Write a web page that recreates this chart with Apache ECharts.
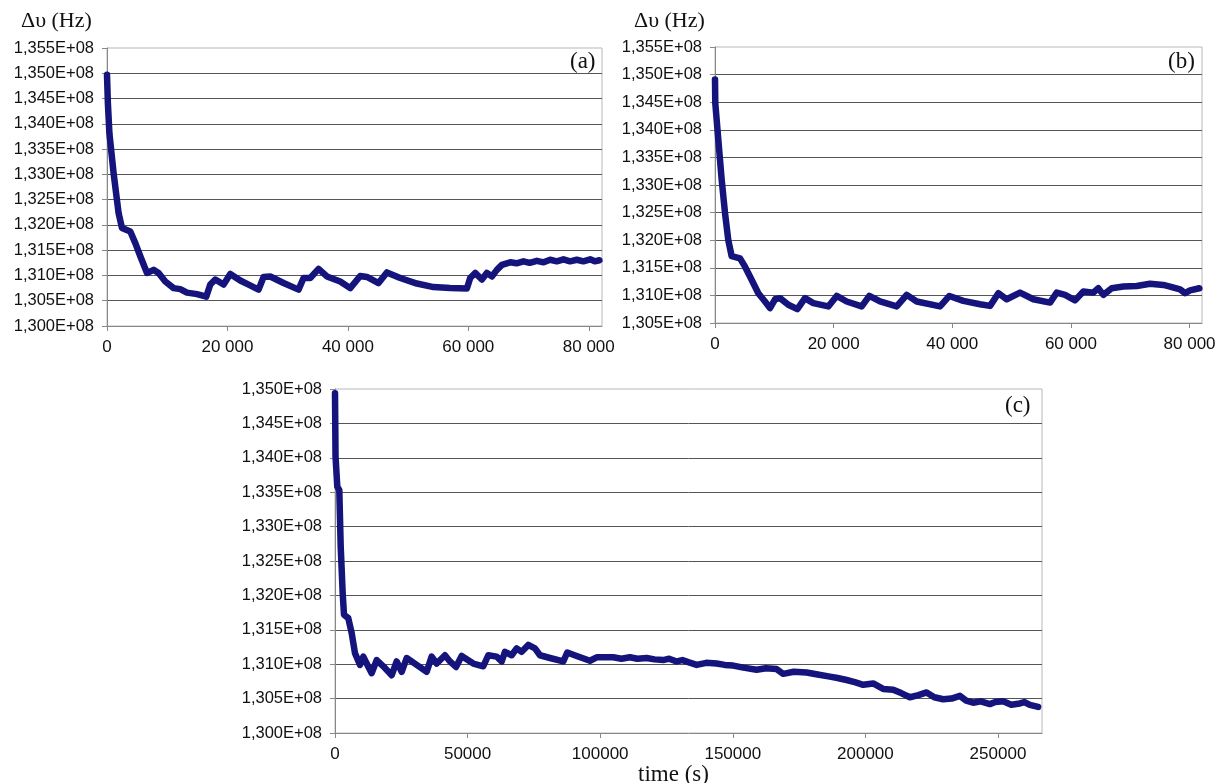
<!DOCTYPE html>
<html><head><meta charset="utf-8">
<script src="https://cdn.jsdelivr.net/npm/echarts@6/dist/echarts.min.js"></script>
<style>html,body{margin:0;padding:0;background:#fff}#c{width:1226px;height:783px}</style>
</head><body><div id="c"></div><script>
// Panel (a): time (s) and frequency difference (Hz)
const aTime=[0,150,400,1100,1930,2490,3870,4700,5530,6640,7740,8570,9680,11060,12170,13280,14940,16480,17150,17980,19360,20470,22130,23510,25170,26000,27110,29320,31810,32640,33750,35130,36520,38730,40390,42050,43160,45090,46480,48690,51460,54220,56990,59760,60310,61140,62250,63080,63910,64740,65570,66950,68000,69160,70200,71380,72500,73590,74700,75800,76900,78020,79100,80230,81000,81770];
const aFreq=[1.3497e8,1.3440e8,1.3381e8,1.3302e8,1.3223e8,1.3194e8,1.3187e8,1.3164e8,1.3138e8,1.3105e8,1.3111e8,1.3105e8,1.3088e8,1.3075e8,1.3073e8,1.3066e8,1.3063e8,1.3058e8,1.3082e8,1.3092e8,1.3082e8,1.3103e8,1.3090e8,1.3082e8,1.3072e8,1.3097e8,1.3098e8,1.3085e8,1.3072e8,1.3095e8,1.3095e8,1.3113e8,1.3098e8,1.3088e8,1.3075e8,1.3099e8,1.3097e8,1.3085e8,1.3106e8,1.3095e8,1.3084e8,1.3077e8,1.3075e8,1.3074e8,1.3095e8,1.3105e8,1.3092e8,1.3105e8,1.3098e8,1.3111e8,1.3121e8,1.3126e8,1.3124e8,1.3128e8,1.3125e8,1.3129e8,1.3126e8,1.3131e8,1.3128e8,1.3132e8,1.3128e8,1.3131e8,1.3128e8,1.3132e8,1.3128e8,1.3130e8];
// Panel (b)
const bTime=[0,50,560,1130,1690,2240,2810,4220,5060,6190,7300,8430,9270,10120,10960,12360,13880,15170,16570,19100,20520,22200,24730,26020,27820,30630,32320,34010,37940,39510,41860,44680,46370,47770,49180,51420,53670,56480,57610,59010,60700,62100,63780,64620,65470,66880,68840,71100,73340,75580,76710,78400,79240,80090,81650];
const bFreq=[1.3491e8,1.3448e8,1.3382e8,1.3309e8,1.3249e8,1.3200e8,1.3171e8,1.3167e8,1.3152e8,1.3128e8,1.3104e8,1.3089e8,1.3077e8,1.3093e8,1.3095e8,1.3083e8,1.3075e8,1.3095e8,1.3086e8,1.3080e8,1.3099e8,1.3089e8,1.3080e8,1.3099e8,1.3089e8,1.3080e8,1.3101e8,1.3089e8,1.3080e8,1.3099e8,1.3090e8,1.3084e8,1.3081e8,1.3104e8,1.3093e8,1.3105e8,1.3093e8,1.3087e8,1.3105e8,1.3101e8,1.3091e8,1.3107e8,1.3105e8,1.3113e8,1.3101e8,1.3113e8,1.3116e8,1.3117e8,1.3121e8,1.3119e8,1.3116e8,1.3111e8,1.3104e8,1.3109e8,1.3113e8];
// Panel (c)
const cTime=[0,200,870,1620,2150,2900,3390,5010,6300,7540,9430,10670,11950,13840,15720,18210,21380,23260,25150,27030,30800,34570,36450,38340,41470,43350,45620,47760,52150,55920,57800,60960,62850,64090,66620,68500,70390,72880,75400,77290,81060,86080,87580,91130,96140,98660,104920,108000,111210,114000,117500,120500,123770,126000,128820,131000,133200,136360,140000,143900,147000,150160,154000,158980,162500,166520,169010,173000,177830,182000,186610,189500,192910,196000,199170,202940,206710,210480,213500,216780,220000,223070,226000,229330,232500,235630,238000,240640,243500,246940,249000,251950,255000,258250,260000,262020,265140];
const cFreq=[1.3494e8,1.3402e8,1.3358e8,1.3353e8,1.3271e8,1.3203e8,1.3172e8,1.3167e8,1.3145e8,1.3116e8,1.3099e8,1.3111e8,1.3101e8,1.3087e8,1.3106e8,1.3097e8,1.3084e8,1.3104e8,1.3089e8,1.3109e8,1.3099e8,1.3089e8,1.3111e8,1.3101e8,1.3113e8,1.3104e8,1.3096e8,1.3112e8,1.3101e8,1.3097e8,1.3113e8,1.3111e8,1.3104e8,1.3118e8,1.3113e8,1.3123e8,1.3118e8,1.3128e8,1.3123e8,1.3113e8,1.3109e8,1.3104e8,1.3117e8,1.3112e8,1.3105e8,1.3110e8,1.3110e8,1.3108e8,1.3110e8,1.3108e8,1.3109e8,1.3107e8,1.3106e8,1.3108e8,1.3104e8,1.3106e8,1.3103e8,1.3099e8,1.3102e8,1.3101e8,1.3099e8,1.3098e8,1.3095e8,1.3092e8,1.3094e8,1.3093e8,1.3086e8,1.3089e8,1.3088e8,1.3085e8,1.3082e8,1.3080e8,1.3077e8,1.3074e8,1.3070e8,1.3072e8,1.3064e8,1.3063e8,1.3058e8,1.3052e8,1.3055e8,1.3059e8,1.3052e8,1.3049e8,1.3050e8,1.3054e8,1.3047e8,1.3044e8,1.3046e8,1.3042e8,1.3045e8,1.3046e8,1.3041e8,1.3043e8,1.3045e8,1.3041e8,1.3038e8];
const xTicksAB=[0,20000,40000,60000,80000];
const xLabelsAB=['0','20 000','40 000','60 000','80 000'];
const xTicksC=[0,50000,100000,150000,200000,250000];
const xLabelsC=['0','50000','100000','150000','200000','250000'];
const yLabel='\u0394\u03c5 (Hz)';
const panelLabels=['(a)','(b)','(c)'];
const xTitle='time (s)';

const LINE='#14147c', SANS='"Liberation Sans", Arial, sans-serif', SERIF='"Liberation Serif", "Times New Roman", serif';
function fmtY(v){return (v/1e8).toFixed(3).replace('.',',')+'E+08';}
function mkX(idx,max,ticks,labels){
  return {type:'value',gridIndex:idx,min:0,max:max,
    axisLine:{show:true,lineStyle:{color:'#888',width:1}},
    axisTick:{show:true,inside:false,length:5,customValues:ticks,lineStyle:{color:'#888'}},
    axisLabel:{customValues:ticks,margin:13,color:'#111',fontFamily:SANS,fontSize:17,
      formatter:v=>{const i=ticks.indexOf(v);return i>=0?labels[i]:'';}},
    splitLine:{show:false}};
}
function mkY(idx,min,max){
  return {type:'value',gridIndex:idx,min:min,max:max,interval:5e5,
    axisLine:{show:true,lineStyle:{color:'#888',width:1}},
    axisTick:{show:true,inside:false,length:5,lineStyle:{color:'#888'}},
    axisLabel:{margin:13,color:'#111',fontFamily:SANS,fontSize:16.5,formatter:fmtY},
    splitLine:{show:true,showMaxLine:false,showMinLine:false,lineStyle:{color:'#555',width:1}}};
}
function mkS(idx,t,f){
  return {type:'line',xAxisIndex:idx,yAxisIndex:idx,showSymbol:false,
    data:t.map((x,i)=>[x,f[i]]),lineStyle:{color:LINE,width:6.5,join:'round',cap:'round'},itemStyle:{color:LINE},
    animation:false};
}
const chart=echarts.init(document.getElementById('c'));
const gridBase={show:true,borderColor:'#b8b8b8',borderWidth:1,backgroundColor:'transparent'};
chart.setOption({
  animation:false,
  grid:[
    Object.assign({left:107,top:48,width:495,height:278},gridBase),
    Object.assign({left:715,top:47,width:487,height:276},gridBase),
    Object.assign({left:335,top:389,width:707,height:344},gridBase)
  ],
  xAxis:[mkX(0,82200,xTicksAB,xLabelsAB),mkX(1,82100,xTicksAB,xLabelsAB),mkX(2,266600,xTicksC,xLabelsC)],
  yAxis:[mkY(0,1.300e8,1.355e8),mkY(1,1.305e8,1.355e8),mkY(2,1.300e8,1.350e8)],
  series:[mkS(0,aTime,aFreq),mkS(1,bTime,bFreq),mkS(2,cTime,cFreq)],
  graphic:[
    {type:'text',left:21,top:10,style:{text:yLabel,font:'22px '+SERIF,fill:'#111'}},
    {type:'text',left:634,top:10,style:{text:yLabel,font:'22px '+SERIF,fill:'#111'}},
    {type:'text',left:570,top:50,style:{text:panelLabels[0],font:'23px '+SERIF,fill:'#111'}},
    {type:'text',left:1168,top:50,style:{text:panelLabels[1],font:'23px '+SERIF,fill:'#111'}},
    {type:'text',left:1005,top:394,style:{text:panelLabels[2],font:'23px '+SERIF,fill:'#111'}},
    {type:'text',left:638,top:763,style:{text:xTitle,font:'23px '+SERIF,fill:'#111'}}
  ]
});
</script></body></html>
